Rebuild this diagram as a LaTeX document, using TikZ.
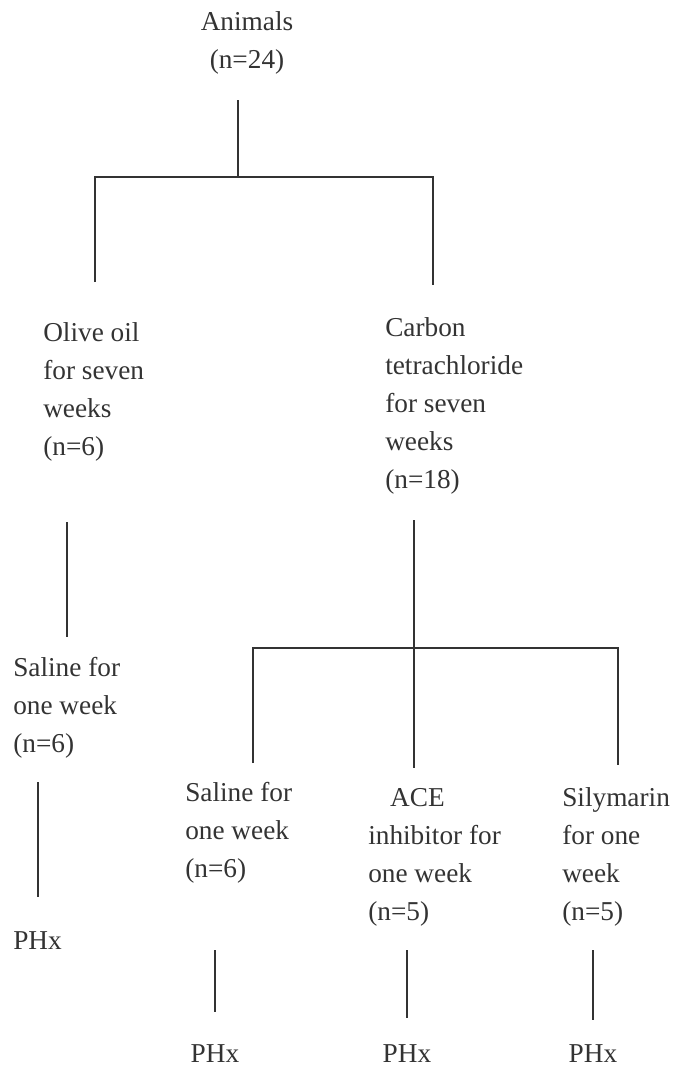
\documentclass[tikz,border=0pt]{standalone}
\usepackage{fontspec}
\setmainfont{Liberation Serif}
\begin{document}
\begin{tikzpicture}[x=0.025cm, y=-0.025cm,
    grp/.style={inner sep=0pt, align=left, anchor=base west, text=black!80,
        font=\fontsize{19.4}{27}\selectfont},
    link/.style={black!80, line width=1.2pt}]
    \useasboundingbox (0,0) rectangle (676,1074);

    % Groups (anchored at the baseline of the last line)
    \node[grp, align=center, anchor=center] (animals) at (247,43) {Animals\\(n=24)};
    \node[grp] (olive) at (43,455) {Olive oil\\for seven\\weeks\\(n=6)};
    \node[grp] (carbon) at (385,488) {Carbon\\tetrachloride\\for seven\\weeks\\(n=18)};
    \node[grp] (salineA) at (13,752) {Saline for\\one week\\(n=6)};
    \node[grp] (salineB) at (185,877) {Saline for\\one week\\(n=6)};
    \node[grp] (ace) at (368,920) {\hspace{0.8em}ACE\\inhibitor for\\one week\\(n=5)};
    \node[grp] (sily) at (562,920) {Silymarin\\for one\\week\\(n=5)};

    % Outcomes
    \node[grp] (phxA) at (13,949) {PHx};
    \node[grp, anchor=base] (phxB) at (215,1062) {PHx};
    \node[grp, anchor=base] (phxC) at (407,1062) {PHx};
    \node[grp, anchor=base] (phxD) at (593,1062) {PHx};

    % Junctions
    \coordinate (rootA) at (238,100);
    \coordinate (rootB) at (238,177);
    \coordinate (oliveIn) at (95,282);
    \coordinate (carbonIn) at (433,285);
    \coordinate (oliveOut) at (67,522);
    \coordinate (salineAIn) at (67,637);
    \coordinate (salineAOut) at (38,782);
    \coordinate (phxAIn) at (38,897);
    \coordinate (carbonOut) at (414,520);
    \coordinate (split) at (414,648);
    \coordinate (salineBIn) at (253,763);
    \coordinate (aceIn) at (414,768);
    \coordinate (silyIn) at (618,765);

    % Connectors
    \draw[link] (rootA) -- (rootB);
    \draw[link] (oliveIn) |- (rootB) -| (carbonIn);
    \draw[link] (oliveOut) -- (salineAIn);
    \draw[link] (salineAOut) -- (phxAIn);
    \draw[link] (carbonOut) -- (aceIn);
    \draw[link] (salineBIn) |- (split) -| (silyIn);
    \draw[link] (215,950) -- (phxB.north |- 0,1012);
    \draw[link] (407,950) -- (phxC.north |- 0,1018);
    \draw[link] (593,950) -- (phxD.north |- 0,1020);
\end{tikzpicture}
\end{document}
